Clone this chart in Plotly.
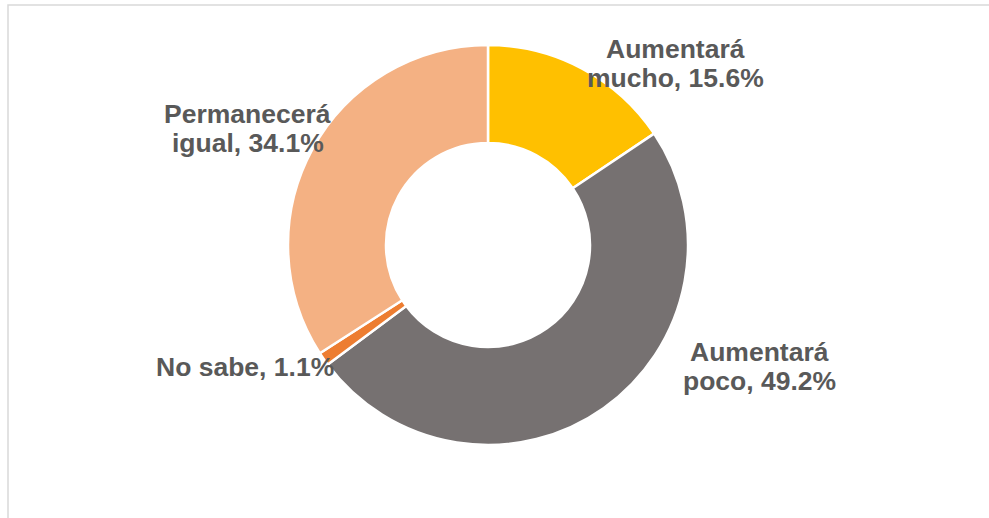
import plotly.graph_objects as go

W, H = 989, 518

# slice data, clockwise from 12 o'clock
categories = ["Aumentará mucho", "Aumentará poco", "No sabe", "Permanecerá igual"]
values = [15.6, 49.2, 1.1, 34.1]
colors = ["#FFC000", "#767171", "#ED7D31", "#F4B183"]

# label text as shown on the chart, one entry per line
label_lines = [
    ["Aumentará", "mucho, 15.6%"],
    ["Aumentará", "poco, 49.2%"],
    ["No sabe, 1.1%"],
    ["Permanecerá", "igual, 34.1%"],
]
# label centres in pixels (x, y of first line)
label_pos = [(675, 49), (759, 352), (245, 367), (248, 114)]
line_gap = 29


def px_x(x):
    return x / W


def px_y(y):
    return 1 - y / H


fig = go.Figure(
    go.Pie(
        labels=categories,
        values=values,
        hole=0.51,
        sort=False,
        direction="clockwise",
        rotation=0,
        marker=dict(colors=colors, line=dict(color="white", width=2.5)),
        textinfo="none",
        hoverinfo="label+percent",
        showlegend=False,
        # pie is 400px across, centred at (488, 245)
        domain=dict(x=[px_x(288), px_x(688)], y=[px_y(445), px_y(45)]),
    )
)

annotations = []
for lines, (x, y) in zip(label_lines, label_pos):
    for i, line in enumerate(lines):
        annotations.append(
            dict(
                text=f"<b>{line}</b>",
                x=px_x(x),
                y=px_y(y + i * line_gap),
                xref="paper",
                yref="paper",
                xanchor="center",
                yanchor="middle",
                showarrow=False,
                font=dict(family="Liberation Sans, Arial", size=26.5, color="#595959"),
            )
        )

fig.update_layout(
    width=W,
    height=H,
    margin=dict(l=0, r=0, t=0, b=0),
    paper_bgcolor="white",
    plot_bgcolor="white",
    annotations=annotations,
    # chart area border (runs off the right and bottom edges)
    shapes=[
        dict(
            type="rect",
            xref="paper",
            yref="paper",
            x0=px_x(8),
            x1=px_x(1000),
            y0=px_y(530),
            y1=px_y(5),
            line=dict(color="#D9D9D9", width=1.5),
            fillcolor="rgba(0,0,0,0)",
            layer="below",
        )
    ],
)

# drop the default page margin so the figure sits at the window's corner
fig.write_html(
    "out.html",
    config={"displayModeBar": False},
    post_script="document.body.style.margin='0';",
)
